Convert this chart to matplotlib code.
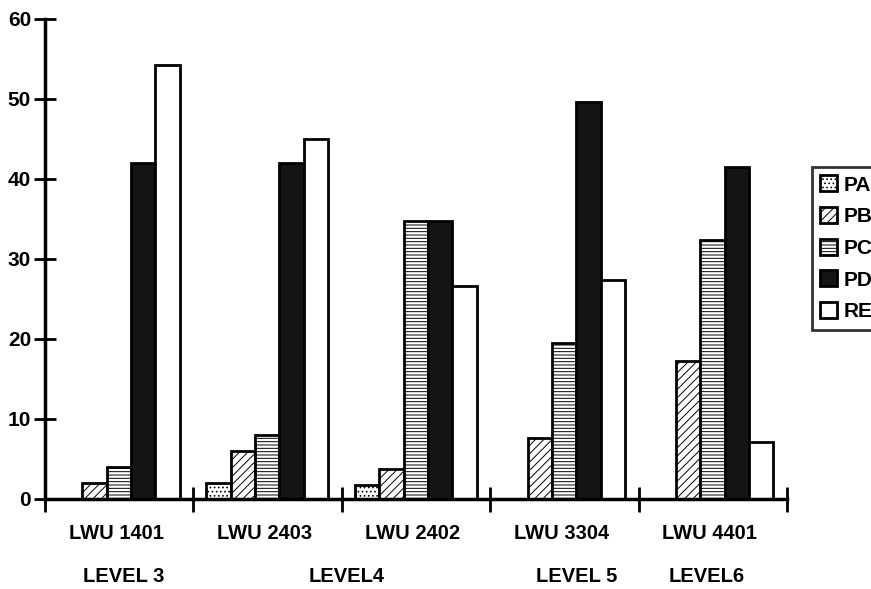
# grouped bar chart, patent-style black & white

import matplotlib.pyplot as plt
import numpy as np

plt.rcParams['font.family'] = ['Liberation Sans', 'DejaVu Sans']
plt.rcParams['hatch.linewidth'] = 0.7

# data
groups = ['LWU 1401', 'LWU 2403', 'LWU 2402', 'LWU 3304', 'LWU 4401']
levels = ['LEVEL 3', 'LEVEL4', 'LEVEL 5', 'LEVEL6']
level_pos = [0.53, 2.03, 3.58, 4.46]

series = ['PA', 'PB', 'PC', 'PD', 'RE']
PA = [0, 2, 1.8, 0, 0]
PB = [2, 6, 3.8, 7.6, 17.2]
PC = [4, 8, 34.7, 19.5, 32.4]
PD = [42, 42, 34.7, 49.6, 41.5]
RE = [54.2, 45, 26.6, 27.4, 7.1]
values = [PA, PB, PC, PD, RE]

faces = ['white', 'white', 'white', '#141414', 'white']
hatches = ['....', '////', '-----', None, None]

fig = plt.figure(figsize=(8.71, 5.89), dpi=100)
ax = fig.add_axes([45 / 871, 1 - 499 / 589, 742 / 871, 480 / 589])

width = 0.164
offset = 0.088
x = np.arange(len(groups))
for i, (name, vals) in enumerate(zip(series, values)):
    ax.bar(x + offset + i * width, vals, width=width, align='edge',
           facecolor=faces[i], edgecolor='black', linewidth=2,
           hatch=hatches[i], label=name)

ax.set_xlim(0, 5)
ax.set_ylim(0, 60)
ax.set_yticks(np.arange(0, 61, 10))
ax.set_xticks(np.arange(0, 6))
ax.set_xticklabels([])
ax.tick_params(axis='y', direction='inout', length=16, width=2, labelsize=15, pad=2)
ax.tick_params(axis='x', direction='inout', length=18, width=2)
for lab in ax.get_yticklabels():
    lab.set_fontweight('bold')

for s in ['top', 'right']:
    ax.spines[s].set_visible(False)
for s in ['left', 'bottom']:
    ax.spines[s].set_linewidth(2.5)

for k, g in enumerate(groups):
    ax.annotate(g, xy=(k + 0.48, 0), xycoords=('data', 'axes fraction'),
                xytext=(0, -25), textcoords='offset points',
                ha='center', va='center', fontsize=14.5, fontweight='bold')
for p, lv in zip(level_pos, levels):
    ax.annotate(lv, xy=(p, 0), xycoords=('data', 'axes fraction'),
                xytext=(0, -56), textcoords='offset points',
                ha='center', va='center', fontsize=14.5, fontweight='bold')

leg = ax.legend(loc='upper left', bbox_to_anchor=(812 / 871, 1 - 167 / 589),
                bbox_transform=fig.transFigure, frameon=True, fancybox=False,
                prop={'size': 15, 'weight': 'bold'}, handlelength=0.8,
                handleheight=0.8, handletextpad=0.3, labelspacing=0.6,
                borderpad=0.4, borderaxespad=0)
leg.get_frame().set_edgecolor('black')
leg.get_frame().set_linewidth(2)

fig.savefig('out.png', dpi=100)
